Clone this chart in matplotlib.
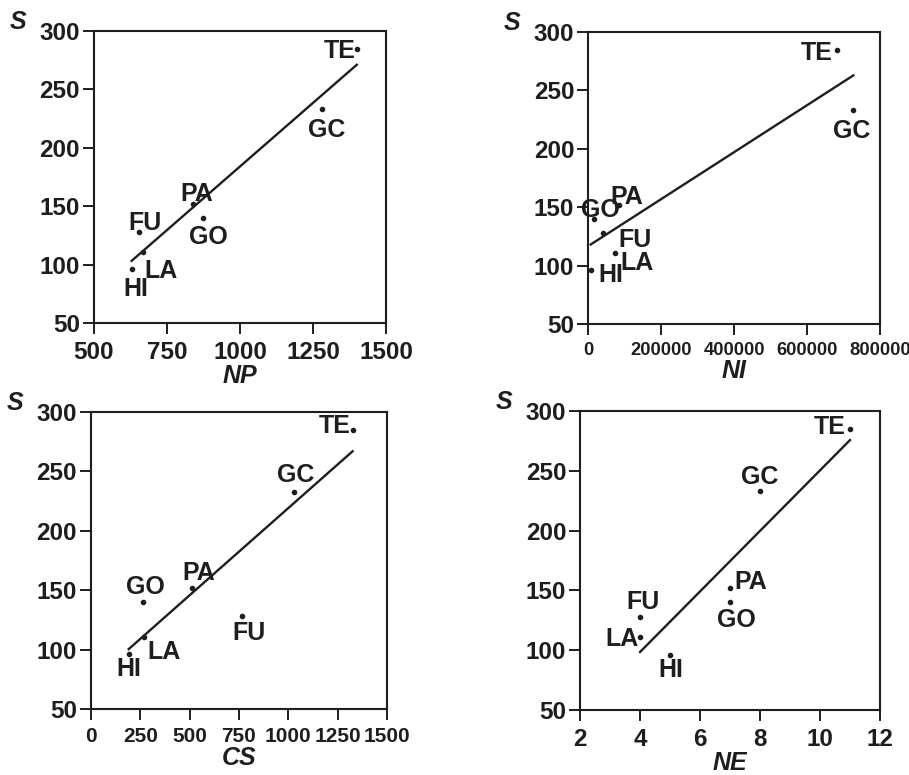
import numpy as np
import matplotlib
matplotlib.use("Agg")
import matplotlib.pyplot as plt

# regions and species richness S
regions = ["TE", "GC", "PA", "GO", "FU", "LA", "HI"]
S = [285, 233, 152, 140, 128, 111, 96]

# predictors
NP = [1400, 1280, 838, 874, 653, 669, 629]
NI = [681000, 727000, 86000, 16400, 42000, 74000, 7400]
CS = [1326, 1027, 512, 262, 763, 270, 191]
NE = [11, 8, 7, 7, 4, 4, 5]

y_ticks = [50, 100, 150, 200, 250, 300]
np_ticks = [500, 750, 1000, 1250, 1500]
ni_ticks = [0, 200000, 400000, 600000, 800000]
cs_ticks = [0, 250, 500, 750, 1000, 1250, 1500]
ne_ticks = [2, 4, 6, 8, 10, 12]

INK = "#1e1e1e"
FS = 18

plt.rcParams["font.family"] = "Liberation Sans"

fig = plt.figure(figsize=(9.09, 7.75), dpi=100)

# label offsets (pixels) for TE, GC, PA, GO, FU, LA, HI
panels = [
    dict(x=NP, name="NP", ticks=np_ticks, rect=[0.1034, 0.5832, 0.3212, 0.3768], xfs=17.5,
         off=[(-17, 0), (5, -19), (4, 12), (5, -17), (6, 11), (18, -17), (4, -18)]),
    dict(x=NI, name="NI", ticks=ni_ticks, rect=[0.6469, 0.5819, 0.3212, 0.3768], xfs=13.2,
         off=[(-20, -1), (-2, -19), (7, 10), (6, 11), (32, -5), (22, -8), (20, -3)]),
    dict(x=CS, name="CS", ticks=cs_ticks, rect=[0.1001, 0.0852, 0.3256, 0.3832], xfs=15,
         off=[(-18, 6), (2, 19), (7, 17), (3, 17), (7, -15), (20, -13), (0, -13)]),
    dict(x=NE, name="NE", ticks=ne_ticks, rect=[0.6381, 0.0839, 0.3300, 0.3858], xfs=17.5,
         off=[(-20, 4), (0, 16), (21, 8), (6, -16), (3, 17), (-18, 0), (1, -13)]),
]

for p in panels:
    ax = fig.add_axes(p["rect"])
    x = np.array(p["x"], dtype=float)
    y = np.array(S, dtype=float)

    ax.plot(x, y, "o", color=INK, ms=3, zorder=3)

    # least squares fit drawn over the data range
    k, b = np.polyfit(x, y, 1)
    xs = np.array([x.min(), x.max()])
    ax.plot(xs, k * xs + b, color=INK, lw=1.7)

    for lab, xi, yi, (dx, dy) in zip(regions, x, y, p["off"]):
        ax.annotate(lab, (xi, yi), xytext=(dx, dy - 2), textcoords="offset pixels",
                    ha="center", va="center", fontsize=FS, fontweight="bold", color=INK)

    ax.set_xlim(p["ticks"][0], p["ticks"][-1])
    ax.set_ylim(50, 300)
    ax.set_xticks(p["ticks"])
    ax.set_yticks(y_ticks)
    ax.set_yticklabels([str(t) for t in y_ticks], fontsize=17.5, fontweight="bold", color=INK)
    ax.set_xticklabels([str(t) for t in p["ticks"]], fontsize=p["xfs"], fontweight="bold", color=INK)
    ax.tick_params(direction="out", length=8, width=1.4, color=INK, pad=2)
    ax.tick_params(axis="x", pad=5)
    for s in ax.spines.values():
        s.set_linewidth(1.5)
        s.set_color(INK)

    ax.set_xlabel(p["name"], fontsize=FS, fontweight="bold", style="italic", color=INK, labelpad=0)
    ax.annotate("S", (0, 1), xycoords="axes fraction", xytext=(-76, 9), textcoords="offset pixels",
                fontsize=FS, fontweight="bold", style="italic", color=INK, ha="center", va="center")

fig.savefig("out.png", dpi=100)
